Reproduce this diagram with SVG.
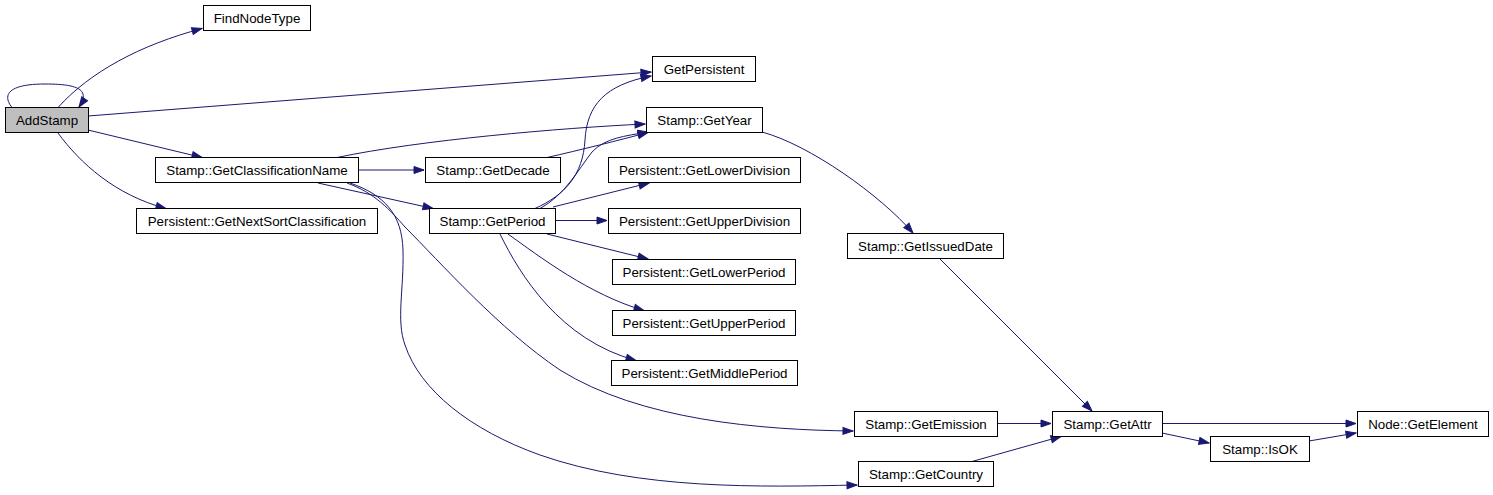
<svg xmlns="http://www.w3.org/2000/svg" width="1493" height="495" viewBox="0 0 1493 495">
<style>
.node rect{fill:#ffffff;stroke:#000000;stroke-width:1}
.node text{font-family:"Liberation Sans",Arial,sans-serif;font-size:13.33px;fill:#000000;text-anchor:middle}
#n_AddStamp rect{fill:#bfbfbf}
.edges path{fill:none;stroke:#191970;stroke-width:1;marker-end:url(#arr)}
</style>
<defs>
<marker id="arr" markerWidth="12" markerHeight="9" refX="10" refY="3.5" orient="auto" markerUnits="userSpaceOnUse" overflow="visible">
<path d="M0,0L10,3.5L0,7z" fill="#191970" stroke="#191970" stroke-width="1"/>
</marker>
</defs>
<rect x="0" y="0" width="1493" height="495" fill="#ffffff"/>
<g class="edges">
<path d="M12,107.5 C2,95 8,84 45,84 C74,84 92,88 79,107"/>
<path d="M58,107.5 C90,72 140,45 202,28.5"/>
<path d="M88,116 L651,72"/>
<path d="M88,130 L202,157.5"/>
<path d="M58,133 C80,163 115,195 166,208.5"/>
<path d="M337,157.5 C420,140 560,128 645,124"/>
<path d="M358,170 L424,170"/>
<path d="M318,183 L433,208.5"/>
<path d="M347,183 C375,193 390,210 405,227 C440,262 500,330 560,370 C640,420 760,430 853,431"/>
<path d="M350,183 C385,195 402,215 403,250 C404,290 396,320 405,345 C420,390 470,430 540,455 C640,490 760,487 857,485"/>
<path d="M547,157.5 C580,150 620,140 648,132.5"/>
<path d="M540,208.5 C565,195 578,170 592,152 C605,138 625,136 648,132"/>
<path d="M535,208.5 C565,195 583,175 585,140 C587,105 605,85 651,76"/>
<path d="M553,207 L649,183"/>
<path d="M556,220.5 L607,220.5"/>
<path d="M547,234 L648,259"/>
<path d="M508,234 C540,257 590,295 644,310.5"/>
<path d="M500,234 C520,275 560,340 636,360.5"/>
<path d="M762,132 C810,145 880,195 913,233"/>
<path d="M940,259 L1092,411"/>
<path d="M997,423.5 L1051,423.5"/>
<path d="M972,461.5 L1061,436.5"/>
<path d="M1162,423.5 L1356,423.5"/>
<path d="M1162,433 L1209,443"/>
<path d="M1309,441 L1356,433"/>
</g>
<g id="n_AddStamp" class="node"><rect x="5.5" y="107.5" width="83" height="25"/><text x="47" y="124.5">AddStamp</text></g>
<g id="n_FindNodeType" class="node"><rect x="203.5" y="5.5" width="107" height="25"/><text x="257" y="22.5">FindNodeType</text></g>
<g id="n_GetPersistent" class="node"><rect x="652.5" y="56.5" width="103" height="25"/><text x="704" y="73.5">GetPersistent</text></g>
<g id="n_GetYear" class="node"><rect x="646.5" y="107.5" width="116" height="25"/><text x="704.5" y="124.5">Stamp::GetYear</text></g>
<g id="n_GetClassificationName" class="node"><rect x="155.5" y="157.5" width="203" height="25"/><text x="257" y="174.5">Stamp::GetClassificationName</text></g>
<g id="n_GetDecade" class="node"><rect x="425.5" y="157.5" width="135" height="25"/><text x="493" y="174.5">Stamp::GetDecade</text></g>
<g id="n_GetLowerDivision" class="node"><rect x="608.5" y="157.5" width="192" height="25"/><text x="704.5" y="174.5">Persistent::GetLowerDivision</text></g>
<g id="n_GetNextSortClassification" class="node"><rect x="136.5" y="208.5" width="241" height="25"/><text x="257" y="225.5">Persistent::GetNextSortClassification</text></g>
<g id="n_GetPeriod" class="node"><rect x="429.5" y="208.5" width="126" height="25"/><text x="492.5" y="225.5">Stamp::GetPeriod</text></g>
<g id="n_GetUpperDivision" class="node"><rect x="608.5" y="208.5" width="192" height="25"/><text x="704.5" y="225.5">Persistent::GetUpperDivision</text></g>
<g id="n_GetIssuedDate" class="node"><rect x="847.5" y="233.5" width="156" height="25"/><text x="925.5" y="250.5">Stamp::GetIssuedDate</text></g>
<g id="n_GetLowerPeriod" class="node"><rect x="612.5" y="259.5" width="183" height="25"/><text x="704" y="276.5">Persistent::GetLowerPeriod</text></g>
<g id="n_GetUpperPeriod" class="node"><rect x="612.5" y="310.5" width="183" height="25"/><text x="704" y="327.5">Persistent::GetUpperPeriod</text></g>
<g id="n_GetMiddlePeriod" class="node"><rect x="611.5" y="360.5" width="186" height="25"/><text x="704.5" y="377.5">Persistent::GetMiddlePeriod</text></g>
<g id="n_GetEmission" class="node"><rect x="854.5" y="411.5" width="143" height="25"/><text x="926" y="428.5">Stamp::GetEmission</text></g>
<g id="n_GetAttr" class="node"><rect x="1052.5" y="411.5" width="110" height="25"/><text x="1107.5" y="428.5">Stamp::GetAttr</text></g>
<g id="n_GetElement" class="node"><rect x="1357.5" y="411.5" width="131" height="25"/><text x="1423" y="428.5">Node::GetElement</text></g>
<g id="n_IsOK" class="node"><rect x="1210.5" y="436.5" width="99" height="25"/><text x="1260" y="453.5">Stamp::IsOK</text></g>
<g id="n_GetCountry" class="node"><rect x="858.5" y="461.5" width="135" height="25"/><text x="926" y="478.5">Stamp::GetCountry</text></g>
</svg>
